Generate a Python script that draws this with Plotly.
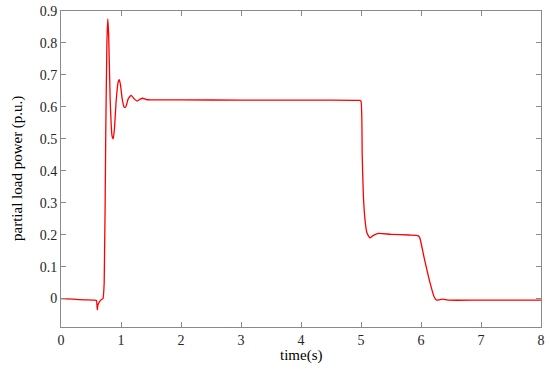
import plotly.graph_objects as go

time_s = [0, 0.2, 0.4, 0.55, 0.59, 0.605, 0.615, 0.64, 0.68, 0.70, 0.72, 0.745, 0.765, 0.78,
          0.795, 0.82, 0.85, 0.87, 0.89, 0.92, 0.95, 0.97, 0.99, 1.02, 1.05, 1.07, 1.09, 1.12,
          1.17, 1.22, 1.27, 1.32, 1.36, 1.42, 1.5, 2, 3, 4, 4.98, 5.0, 5.02, 5.04, 5.07, 5.1,
          5.15, 5.2, 5.29, 5.5, 5.8, 5.95, 5.98, 6.05, 6.15, 6.22, 6.26, 6.3, 6.36, 6.45, 7, 8]
power_pu = [0.0, -0.002, -0.004, -0.005, -0.006, -0.035, -0.02, -0.01, -0.002, 0.0, 0.05, 0.5,
            0.8, 0.875, 0.82, 0.62, 0.51, 0.50, 0.53, 0.62, 0.675, 0.685, 0.67, 0.625, 0.60,
            0.598, 0.605, 0.625, 0.636, 0.625, 0.618, 0.624, 0.627, 0.623, 0.622, 0.622, 0.621,
            0.621, 0.620, 0.618, 0.45, 0.32, 0.24, 0.205, 0.19, 0.197, 0.204, 0.201, 0.199,
            0.197, 0.19, 0.13, 0.05, 0.005, -0.005, -0.004, -0.002, -0.005, -0.005, -0.005]

x_ticks = [0, 1, 2, 3, 4, 5, 6, 7, 8]
y_ticks = [0, 0.1, 0.2, 0.3, 0.4, 0.5, 0.6, 0.7, 0.8, 0.9]

fig = go.Figure()
fig.add_trace(go.Scatter(x=time_s, y=power_pu, mode="lines",
                         line=dict(color="#ff0000", width=1.3, shape="spline", smoothing=0.5),
                         showlegend=False))

axis_common = dict(showline=True, linecolor="#8a8a8a", linewidth=1, mirror="ticks",
                   ticks="inside", ticklen=5, tickcolor="#8a8a8a", showgrid=False,
                   zeroline=False, automargin=False, ticklabeloverflow="allow",
                   tickfont=dict(family="Liberation Serif", size=14, color="#262626"))

fig.update_xaxes(range=[0, 8], tickvals=x_ticks, ticktext=[str(v) for v in x_ticks],
                 **axis_common)
fig.update_yaxes(range=[-0.089, 0.9], tickvals=y_ticks, ticktext=["0"] + [f"{v:.1f}" for v in y_ticks[1:]],
                 **axis_common)

title_font = dict(family="Liberation Serif", size=15, color="#000000")
fig.add_annotation(text="time(s)", xref="paper", yref="paper", x=0.5, y=0,
                   yshift=-28, showarrow=False, xanchor="center", yanchor="middle",
                   font=title_font)
fig.add_annotation(text="partial load power (p.u.)", xref="paper", yref="paper", x=0, y=0.5,
                   xshift=-44, showarrow=False, xanchor="center", yanchor="middle",
                   textangle=-90, font=title_font)

fig.update_layout(width=550, height=370, margin=dict(l=61, r=9, t=11, b=43),
                  paper_bgcolor="white", plot_bgcolor="white")

fig.write_html("out.html", config={"displayModeBar": False},
               post_script="document.body.style.margin='0';")
